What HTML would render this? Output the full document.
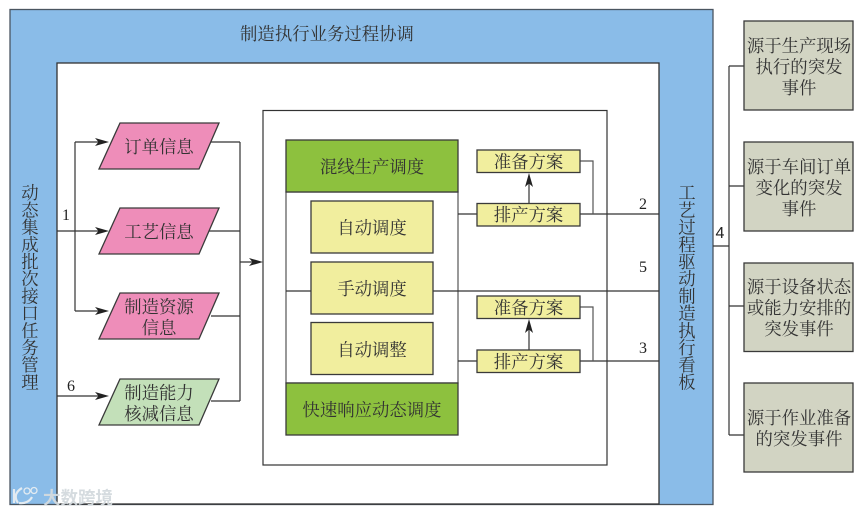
<!DOCTYPE html>
<html lang="zh">
<head>
<meta charset="utf-8">
<style>
html,body{margin:0;padding:0;background:#fff;width:866px;height:513px;overflow:hidden}
svg{display:block}
text{font-family:"Liberation Serif","Noto Serif CJK SC",serif;font-size:17.4px;fill:#333;text-anchor:middle;transform:translateY(1.2px)}
.b{stroke:#3a3a3a;stroke-width:1.3}
.l{stroke:#333;stroke-width:1.2;fill:none}
text.n{font-size:16px;fill:#222;transform:none}
text.w{font-family:"Liberation Sans","Noto Sans CJK SC",sans-serif;font-size:17.5px;fill:#d3dade;font-weight:700;transform:none}
</style>
</head>
<body>
<svg width="866" height="513" viewBox="0 0 866 513" xmlns="http://www.w3.org/2000/svg">
<rect x="10" y="9.5" width="703" height="495" fill="#8abce8" stroke="#4a5560" stroke-width="1.3"/>
<rect x="57" y="63" width="602" height="441" fill="#fff" stroke="#333" stroke-width="1.3"/>

<text x="327" y="39">制造执行业务过程协调</text>

<text x="30" y="198"><tspan x="30">动</tspan><tspan x="30" dy="17.2">态</tspan><tspan x="30" dy="17.2">集</tspan><tspan x="30" dy="17.2">成</tspan><tspan x="30" dy="17.2">批</tspan><tspan x="30" dy="17.2">次</tspan><tspan x="30" dy="17.2">接</tspan><tspan x="30" dy="17.2">口</tspan><tspan x="30" dy="17.2">任</tspan><tspan x="30" dy="17.2">务</tspan><tspan x="30" dy="17.2">管</tspan><tspan x="30" dy="17.2">理</tspan></text>

<text x="687" y="198"><tspan x="687">工</tspan><tspan x="687" dy="17.2">艺</tspan><tspan x="687" dy="17.2">过</tspan><tspan x="687" dy="17.2">程</tspan><tspan x="687" dy="17.2">驱</tspan><tspan x="687" dy="17.2">动</tspan><tspan x="687" dy="17.2">制</tspan><tspan x="687" dy="17.2">造</tspan><tspan x="687" dy="17.2">执</tspan><tspan x="687" dy="17.2">行</tspan><tspan x="687" dy="17.2">看</tspan><tspan x="687" dy="17.2">板</tspan></text>

<!-- central frame -->
<rect x="263" y="110.5" width="344" height="354.5" fill="#fff" stroke="#333" stroke-width="1.2"/>

<!-- left connectors -->
<path class="l" d="M57 231H100M75 142V311M75 142H100M75 311H100M57 396H100"/>
<path class="l" d="M211 142H240M208 231H240M211 316H240M211 401H240M240 142V401M240 262H255"/>
<g fill="#222">
<path d="M95 138L109 142L95 146L98.500 142Z"/>
<path d="M95 227L109 231L95 235L98.500 231Z"/>
<path d="M95 307L109 311L95 315L98.500 311Z"/>
<path d="M95 392L109 396L95 400L98.500 396Z"/>
<path d="M249 258L263 262L249 266L252.500 262Z"/>
</g>

<!-- parallelograms -->
<g class="b">
<polygon points="120,123 219,123 199,169 99,169" fill="#ee8db9"/>
<polygon points="120,208 219,208 199,254 99,254" fill="#ee8db9"/>
<polygon points="120,293 219,293 199,339 99,339" fill="#ee8db9"/>
<polygon points="120,379 219,379 199,425 99,425" fill="#c3e0b9"/>
</g>
<text x="159" y="152">订单信息</text>
<text x="159" y="237">工艺信息</text>
<text x="159" y="312">制造资源</text>
<text x="159" y="333">信息</text>
<text x="159" y="398">制造能力</text>
<text x="159" y="419">核减信息</text>

<!-- schedule group -->
<rect x="286" y="192" width="172" height="191" fill="#fff" stroke="#555" stroke-width="1.2"/>
<rect x="286" y="140" width="172" height="52" fill="#8dc13e" class="b"/>
<rect x="286" y="383" width="172" height="52" fill="#8dc13e" class="b"/>
<text x="372" y="172">混线生产调度</text>
<text x="372" y="415">快速响应动态调度</text>
<path class="l" d="M286 291H311M433 291H659"/>
<rect x="311" y="201" width="122" height="52" fill="#f1ee9e" class="b"/>
<rect x="311" y="262" width="122" height="52" fill="#f1ee9e" class="b"/>
<rect x="311" y="322.5" width="122" height="52" fill="#f1ee9e" class="b"/>
<text x="372" y="233">自动调度</text>
<text x="372" y="294">手动调度</text>
<text x="372" y="355">自动调整</text>

<!-- right connectors -->
<path class="l" d="M458 214H477M458 361H477M580 214H659M580 361H659"/>
<path class="l" style="stroke:#555" d="M580 161H593V214M580 307H593V361"/>
<path class="l" d="M529 203V182M529 350V328"/>
<g fill="#222">
<path d="M529 173L533 187L529 183.500L525 187Z"/>
<path d="M529 319L533 333L529 329.500L525 333Z"/>
</g>
<rect x="477" y="150" width="103" height="22.5" fill="#f1ee9e" class="b"/>
<rect x="477" y="203.500" width="103" height="22.5" fill="#f1ee9e" class="b"/>
<rect x="477" y="296" width="103" height="22.5" fill="#f1ee9e" class="b"/>
<rect x="477" y="350" width="103" height="22.5" fill="#f1ee9e" class="b"/>
<text x="528.500" y="167">准备方案</text>
<text x="528.500" y="220">排产方案</text>
<text x="528.500" y="313">准备方案</text>
<text x="528.500" y="367">排产方案</text>

<!-- events -->
<path class="l" d="M713 246H729M729 66V435M729 66H744M729 186H744M729 306H744M729 435H744"/>
<g fill="#d2d4c3" class="b">
<rect x="744" y="21" width="109" height="89"/>
<rect x="744" y="142" width="109" height="89"/>
<rect x="744" y="263" width="109" height="88.5"/>
<rect x="744" y="383" width="109" height="89"/>
</g>
<text x="799" y="51">源于生产现场</text>
<text x="799" y="72">执行的突发</text>
<text x="799" y="93">事件</text>
<text x="799" y="172">源于车间订单</text>
<text x="799" y="193">变化的突发</text>
<text x="799" y="214">事件</text>
<text x="799" y="292">源于设备状态</text>
<text x="799" y="313">或能力安排的</text>
<text x="799" y="334">突发事件</text>
<text x="799" y="423">源于作业准备</text>
<text x="799" y="444">的突发事件</text>

<!-- numbers -->
<text class="n" x="66" y="220">1</text>
<text class="n" x="71" y="391">6</text>
<text class="n" x="643" y="209">2</text>
<text class="n" x="643" y="272">5</text>
<text class="n" x="643" y="353">3</text>
<text class="n" x="720" y="238" style="font-family:'Liberation Sans',sans-serif">4</text>

<!-- watermark -->
<g opacity=".95">
<path d="M14 489V503M18 503C13 496 17 491 22 488M19 503C25 504 30 501 32 497" fill="none" stroke="#e8eef2" stroke-width="2.2"/>
<circle cx="27" cy="491" r="3" fill="none" stroke="#e8eef2" stroke-width="1.3"/>
<circle cx="34" cy="490.5" r="3" fill="none" stroke="#e8eef2" stroke-width="1.3"/>
<text class="w" x="78" y="504">大数跨境</text>
</g>
</svg>
</body>
</html>
